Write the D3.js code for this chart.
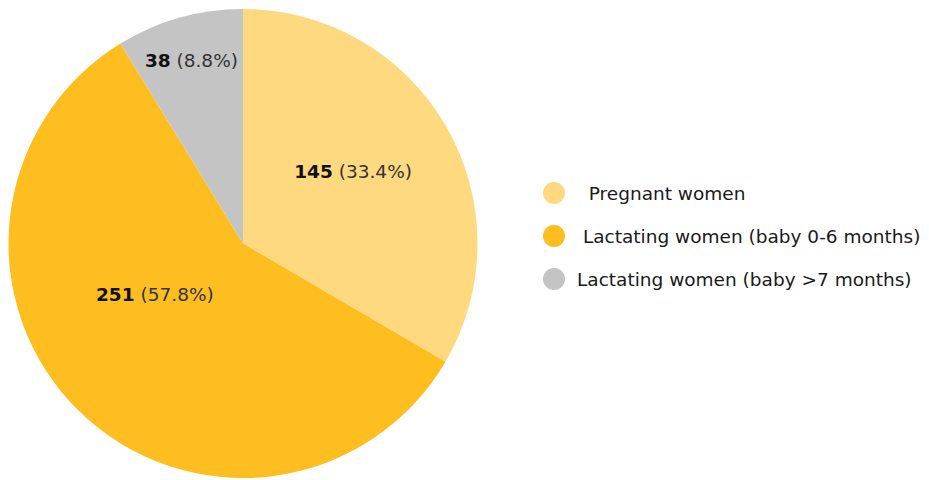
<!DOCTYPE html>
<html><head><meta charset="utf-8">
<script src="https://cdn.jsdelivr.net/npm/d3@7"></script>
<style>
html,body{margin:0;padding:0;background:#fff;}
text{font-family:"DejaVu Sans",Arial,sans-serif;}
</style></head>
<body><svg id="c" width="929" height="480"></svg>
<script>
const categories = ["Pregnant women", "Lactating women (baby 0-6 months)", "Lactating women (baby >7 months)"];
const legendLabels = ["  Pregnant women", " Lactating women (baby 0-6 months)", "Lactating women (baby >7 months)"];
const values = [145, 251, 38];
const percents = ["33.4%", "57.8%", "8.8%"];
const colors = ["#FFD97F", "#FEBE20", "#C4C4C4"];

const svg = d3.select("#c");
const cx = 243, cy = 243.5, R = 234.5;
const g = svg.append("g").attr("transform", `translate(${cx},${cy})`);
const pie = d3.pie().sort(null).value(d => d.v);
const data = pie(values.map((v, i) => ({v, i})));
const arc = d3.arc().innerRadius(0).outerRadius(R);
g.selectAll("path").data(data).join("path")
  .attr("d", arc).attr("fill", d => colors[d.data.i]);

// label placement (layout): radius fraction and angle shift per slice
const labelLayout = [{rf: 0.562, da: -0.061}, {rf: 0.433, da: 0.277}, {rf: 0.81, da: 0.0}];
data.forEach((d, k) => {
  const a = (d.startAngle + d.endAngle) / 2 + labelLayout[k].da;
  const r = R * labelLayout[k].rf;
  const x = r * Math.sin(a), y = -r * Math.cos(a);
  const t = g.append("text").attr("x", x).attr("y", y).attr("dy", "0.36em")
    .attr("text-anchor", "middle").attr("font-size", 18.5).attr("fill", "#111");
  t.append("tspan").attr("font-weight", "bold").text(values[d.data.i]);
  t.append("tspan").attr("fill", "#333").text(" (" + percents[d.data.i] + ")");
});

const ly = d3.scalePoint().domain(d3.range(categories.length)).range([193, 279]);
const leg = svg.append("g");
categories.forEach((c, i) => {
  leg.append("circle").attr("cx", 554).attr("cy", ly(i)).attr("r", 11).attr("fill", colors[i]);
  leg.append("text").attr("x", 577).attr("y", ly(i)).attr("dy", "0.36em")
    .attr("font-size", 18.5).attr("fill", "#1a1a1a").style("white-space", "pre")
    .text(legendLabels[i]);
});
</script></body></html>
